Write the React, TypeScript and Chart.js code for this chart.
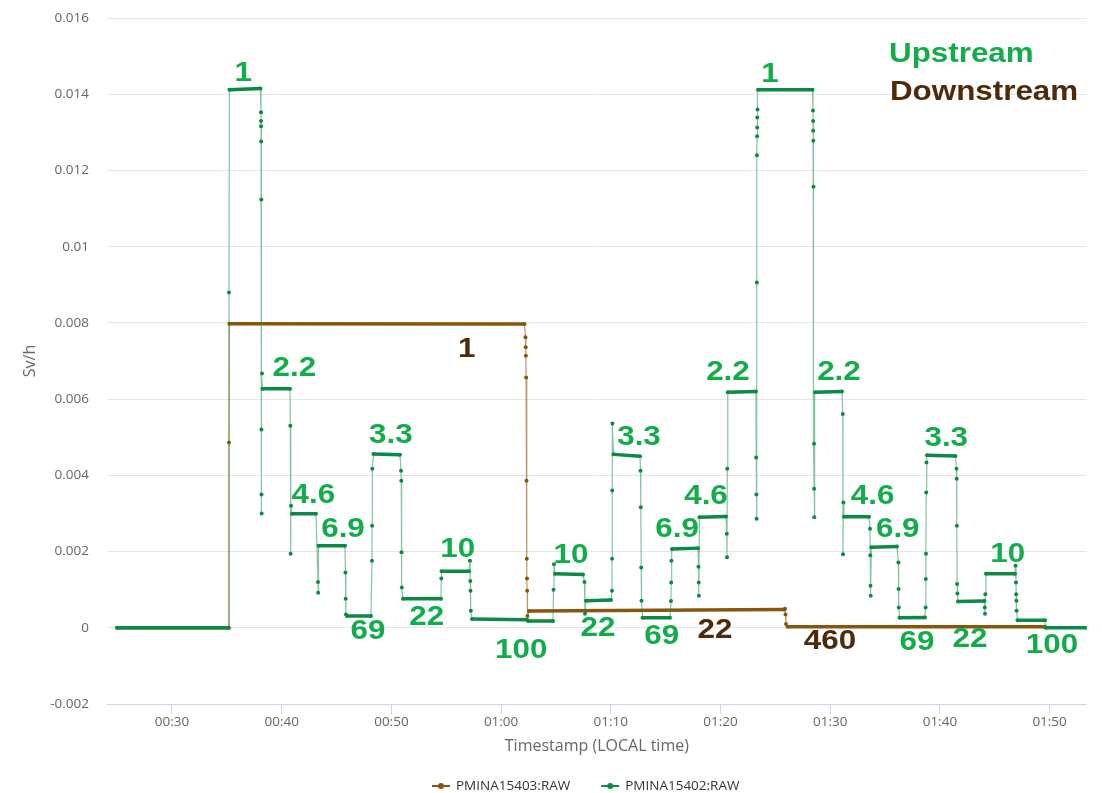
import React, { useEffect, useRef } from 'react';
import { Chart, registerables } from 'chart.js';

Chart.register(...registerables);

// ---- Data (time in minutes after midnight, values in Sv/h) ----
const seriesNames = ['PMINA15403:RAW', 'PMINA15402:RAW'];

// Upstream detector (green) PMINA15402
const upTimes = [
  24.99, 35.16, 35.196, 35.232, 38.058, 38.113, 38.115, 38.117, 38.13, 38.14, 38.15, 38.16, 38.17, 38.204, 38.25,
  40.757, 40.784, 40.811, 40.848, 40.939, 43.127, 43.309, 43.327, 43.355,
  45.77, 45.81, 45.83, 45.86, 45.95, 48.14, 48.23, 48.24, 48.26, 48.37,
  50.784, 50.875, 50.9, 50.92, 50.95, 51.057, 54.521, 54.548, 54.576,
  57.074, 57.165, 57.192, 57.211, 57.238, 57.347, 62.361, 62.45,
  64.731, 64.777, 64.822, 64.913, 67.466, 67.603, 67.648, 67.739,
  70.018, 70.109, 70.118, 70.128, 70.146, 70.246, 72.662, 72.707, 72.735, 72.771, 72.799, 72.89,
  75.397, 75.488, 75.506, 75.524, 75.579, 77.949, 77.995, 78.013, 78.031, 78.086,
  80.501, 80.574, 80.593, 80.62, 80.666, 83.236, 83.254, 83.272, 83.291, 83.318, 83.327, 83.336, 83.345, 83.354, 83.373, 83.418,
  88.387, 88.432, 88.441, 88.45, 88.459, 88.478, 88.523, 88.532, 88.55, 88.614,
  91.075, 91.148, 91.167, 91.203, 91.258, 93.537, 93.628, 93.655, 93.673, 93.692, 93.747,
  96.089, 96.217, 96.235, 96.253, 96.317, 98.641, 98.696, 98.714, 98.733, 98.751, 98.778, 98.824,
  101.422, 101.513, 101.531, 101.55, 101.568, 101.595, 101.65, 104.066, 104.093, 104.111, 104.139, 104.202,
  106.846, 106.892, 106.937, 106.956, 106.974, 106.992, 107.074, 109.581, 109.626, 113.35,
];
const upValues = [
  0, 0, 0.0088, 0.01412, 0.01415, 0.01353, 0.0133, 0.01316, 0.01276, 0.01124, 0.0052, 0.0035, 0.003, 0.00667, 0.00627,
  0.00627, 0.0053, 0.00194, 0.0032, 0.00299, 0.00299, 0.0012, 0.00092, 0.00215,
  0.00215, 0.00145, 0.00076, 0.00035, 0.00031, 0.00031, 0.00176, 0.00268, 0.00417, 0.00456,
  0.00454, 0.00412, 0.00386, 0.00198, 0.00106, 0.00076, 0.00076, 0.00129, 0.00148,
  0.00148, 0.00176, 0.00123, 0.00097, 0.00045, 0.00023, 0.00021, 0.00018,
  0.00018, 0.001, 0.00167, 0.00142, 0.0014, 0.0012, 0.00037, 0.00071,
  0.00073, 0.00097, 0.00181, 0.0036, 0.00536, 0.00455, 0.0045, 0.00412, 0.00316, 0.00158, 0.00071, 0.00026,
  0.00026, 0.0007, 0.00119, 0.00176, 0.00207, 0.00209, 0.0016, 0.00119, 0.00084, 0.0029,
  0.00292, 0.00247, 0.00185, 0.00417, 0.00618, 0.0062, 0.00447, 0.0035, 0.00286, 0.00906, 0.0124, 0.0129, 0.01313, 0.01339, 0.0136, 0.01412,
  0.01412, 0.01357, 0.0133, 0.01304, 0.01278, 0.01157, 0.00483, 0.00365, 0.0029, 0.00618,
  0.0062, 0.00561, 0.00193, 0.00329, 0.00291, 0.00291, 0.0026, 0.0019, 0.0011, 0.00084, 0.00211,
  0.00213, 0.00171, 0.00102, 0.00053, 0.00026, 0.00027, 0.00053, 0.00128, 0.00194, 0.00355, 0.00434, 0.00453,
  0.00451, 0.00417, 0.00391, 0.00268, 0.00115, 0.0009, 0.00069, 0.0007, 0.00053, 0.00037, 0.00088, 0.00142,
  0.00142, 0.00163, 0.00119, 0.00088, 0.00071, 0.00045, 0.0002, 0.0002, 0, 0,
];

// Downstream detector (brown) PMINA15403
const downTimes = [
  24.99, 35.178, 35.196, 35.223, 62.133, 62.224, 62.243, 62.261, 62.279, 62.315, 62.343, 62.361, 62.379, 62.406,
  62.543, 85.834, 85.88, 85.925, 85.971, 86.108, 109.581,
];
const downValues = [
  0, 0, 0.00486, 0.00798, 0.00797, 0.00762, 0.00736, 0.00714, 0.00657, 0.00386, 0.00181, 0.00129, 0.00097, 0.00031,
  0.00044, 0.00048, 0.0005, 0.00035, 0.0001, 0.00003, 0.00003,
];

const xTickMinutes = [30, 40, 50, 60, 70, 80, 90, 100, 110];
const xRange = [24.075, 113.383];
const yRange = [-0.002, 0.016];
const yStep = 0.002;

// Annotation labels: text, minutes, value, series
const annotationTexts = ['1', '1', '1', '2.2', '4.6', '6.9', '69', '3.3', '22', '10', '100', '10', '22', '3.3', '69', '6.9', '4.6', '22', '2.2', '2.2', '460', '4.6', '6.9', '69', '3.3', '22', '10', '100'];
const annotationTimes = [36.5, 84.51, 56.86, 41.15, 42.88, 45.59, 47.87, 49.95, 53.22, 56.05, 61.84, 66.37, 68.83, 72.57, 74.64, 76.04, 78.68, 79.5, 80.68, 90.8, 89.98, 93.86, 96.16, 97.91, 100.58, 102.74, 106.19, 110.22];
const annotationValues = [0.01461, 0.01458, 0.007376, 0.00687, 0.003537, 0.002653, -0.00003, 0.00512, 0.000336, 0.002133, -0.000517, 0.001955, 0.000047, 0.005059, -0.000163, 0.002653, 0.003511, -0.000005, 0.006765, 0.006765, -0.000294, 0.003519, 0.002653, -0.00032, 0.005033, -0.000241, 0.001989, -0.000399];
const annotationSeries = ['up', 'up', 'down', 'up', 'up', 'up', 'up', 'up', 'up', 'up', 'up', 'up', 'up', 'up', 'up', 'up', 'up', 'down', 'up', 'up', 'down', 'up', 'up', 'up', 'up', 'up', 'up', 'up'];

const keyTexts = ['Upstream', 'Downstream'];
const keyTimes = [95.36, 95.45];
const keyValues = [0.0151, 0.01411];

// ---- Styles ----
const GREEN_LINE = '#0b8a45';
const GREEN_FADE = 'rgba(11,138,69,0.5)';
const BROWN_LINE = '#87560a';
const BROWN_FADE = 'rgba(135,86,10,0.6)';
const GREEN_TEXT = '#12ad4a';
const BROWN_TEXT = '#4d2a0b';

const pad2 = (n: number) => String(n).padStart(2, '0');
const fmtTime = (m: number) => `${pad2(Math.floor(m / 60))}:${pad2(Math.round(m % 60))}`;

const isFlat = (c: any) => Math.abs(c.p1.y - c.p0.y) <= Math.abs(c.p1.x - c.p0.x);

const annotationPlugin = {
  id: 'stepLabels',
  afterDatasetsDraw(chart: any) {
    const { ctx, scales } = chart;
    const fs = 28;
    const sx = 1.12;
    ctx.save();
    ctx.font = `bold ${fs}px "Liberation Sans", Arial, sans-serif`;
    ctx.textBaseline = 'alphabetic';
    const draw = (text: string, t: number, v: number, color: string, align: CanvasTextAlign) => {
      const x = scales.x.getPixelForValue(t);
      const y = scales.y.getPixelForValue(v);
      ctx.save();
      ctx.translate(x, y);
      ctx.scale(sx, 1);
      ctx.fillStyle = color;
      ctx.textAlign = align;
      ctx.fillText(text, 0, fs * 0.358);
      ctx.restore();
    };
    annotationTexts.forEach((txt, i) => {
      draw(txt, annotationTimes[i], annotationValues[i], annotationSeries[i] === 'up' ? GREEN_TEXT : BROWN_TEXT, 'center');
    });
    keyTexts.forEach((txt, i) => {
      draw(txt, keyTimes[i], keyValues[i], i === 0 ? GREEN_TEXT : BROWN_TEXT, 'left');
    });
    ctx.restore();
  },
};

const legendPlugin = {
  id: 'customLegend',
  afterDraw(chart: any) {
    const { ctx } = chart;
    const y = 786;
    const colors = [BROWN_LINE, GREEN_LINE];
    ctx.save();
    ctx.font = '13.5px "Open Sans", sans-serif';
    ctx.textBaseline = 'middle';
    ctx.textAlign = 'left';
    let x = 432;
    seriesNames.forEach((name, i) => {
      ctx.strokeStyle = colors[i];
      ctx.lineWidth = 2;
      ctx.beginPath();
      ctx.moveTo(x, y);
      ctx.lineTo(x + 18, y);
      ctx.stroke();
      ctx.fillStyle = colors[i];
      ctx.beginPath();
      ctx.arc(x + 9, y, 3, 0, Math.PI * 2);
      ctx.fill();
      ctx.fillStyle = '#333333';
      ctx.fillText(name, x + 24, y);
      x += 24 + ctx.measureText(name).width + 31;
    });
    ctx.restore();
  },
};

export default function App() {
  const canvasRef = useRef<HTMLCanvasElement | null>(null);

  useEffect(() => {
    if (!canvasRef.current) return;
    const upData = upTimes.map((t, i) => ({ x: t, y: upValues[i] }));
    const downData = downTimes.map((t, i) => ({ x: t, y: downValues[i] }));

    const chart = new Chart(canvasRef.current, {
      type: 'line',
      data: {
        datasets: [
          {
            label: seriesNames[1],
            data: upData,
            borderColor: GREEN_LINE,
            backgroundColor: GREEN_LINE,
            pointBackgroundColor: GREEN_LINE,
            pointBorderWidth: 0,
            pointRadius: 2,
            borderWidth: 1,
            tension: 0,
            segment: {
              borderWidth: (c: any) => (isFlat(c) ? 3.5 : 1.2),
              borderColor: (c: any) => (isFlat(c) ? GREEN_LINE : GREEN_FADE),
            },
          },
          {
            label: seriesNames[0],
            data: downData,
            borderColor: BROWN_LINE,
            backgroundColor: BROWN_LINE,
            pointBackgroundColor: BROWN_LINE,
            pointBorderWidth: 0,
            pointRadius: 2,
            borderWidth: 1,
            tension: 0,
            segment: {
              borderWidth: (c: any) => (isFlat(c) ? 3.5 : 1.2),
              borderColor: (c: any) => (isFlat(c) ? BROWN_LINE : BROWN_FADE),
            },
          },
        ],
      },
      options: {
        animation: false,
        responsive: false,
        maintainAspectRatio: false,
        layout: { padding: { left: 0, right: 15.3, top: 18, bottom: 37 } },
        plugins: {
          legend: { display: false },
          tooltip: { enabled: false },
        },
        scales: {
          x: {
            type: 'linear',
            min: xRange[0],
            max: xRange[1],
            afterFit: (scale: any) => {
              scale.height = 52;
              scale.paddingLeft = 0;
              scale.paddingRight = 0;
            },
            afterBuildTicks: (scale: any) => {
              scale.ticks = xTickMinutes.map((v) => ({ value: v }));
            },
            ticks: {
              autoSkip: false,
              maxRotation: 0,
              padding: 0,
              color: '#666666',
              font: { family: '"Open Sans", sans-serif', size: 13.5 },
              callback: (v: any) => fmtTime(Number(v)),
            },
            grid: {
              display: true,
              drawOnChartArea: false,
              drawTicks: true,
              tickLength: 10,
              color: '#ccd6eb',
              tickColor: '#ccd6eb',
            },
            border: { display: true, color: '#ccd6eb', width: 1 },
            title: {
              display: true,
              text: 'Timestamp (LOCAL time)',
              color: '#666666',
              font: { family: '"Open Sans", sans-serif', size: 16 },
              padding: { top: 0, bottom: 0 },
            },
          },
          y: {
            type: 'linear',
            min: yRange[0],
            max: yRange[1],
            afterFit: (scale: any) => {
              scale.width = 107;
              scale.paddingTop = 0;
              scale.paddingBottom = 0;
            },
            ticks: {
              stepSize: yStep,
              padding: 18,
              color: '#666666',
              font: { family: '"Open Sans", sans-serif', size: 13.5 },
              callback: (v: any) => String(Number(Number(v).toFixed(4))),
            },
            grid: {
              drawTicks: false,
              color: (c: any) => (c.tick && c.tick.value < yRange[0] + yStep / 10 ? '#ccd6eb' : '#e6e6e6'),
            },
            border: { display: false },
            title: {
              display: true,
              text: 'Sv/h',
              color: '#666666',
              font: { family: '"Open Sans", sans-serif', size: 16 },
              padding: { top: 20.4, bottom: 0 },
            },
          },
        },
      },
      plugins: [annotationPlugin, legendPlugin],
    } as any);

    return () => chart.destroy();
  }, []);

  return (
    <div style={{ position: 'fixed', left: 0, top: 0, width: 1102, height: 793, background: '#ffffff' }}>
      <canvas ref={canvasRef} width={1102} height={793} style={{ display: 'block' }} />
    </div>
  );
}
